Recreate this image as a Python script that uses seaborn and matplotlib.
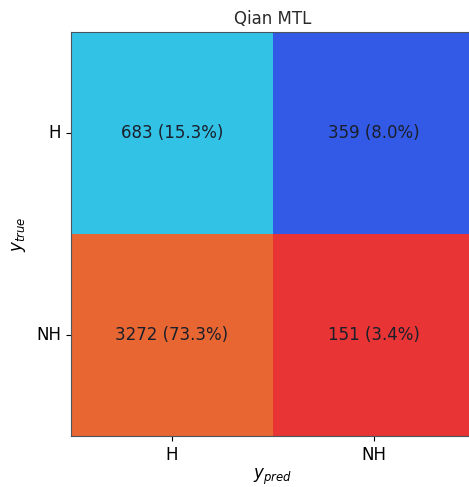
import matplotlib
matplotlib.use('Agg')
import matplotlib.pyplot as plt
from matplotlib.colors import ListedColormap
import seaborn as sns
import numpy as np

classes = ['H', 'NH']
counts = [[683, 359],
          [3272, 151]]
percents = [[15.3, 8.0],
            [73.3, 3.4]]
cell_colors = ['#32c2e6', '#325ae6', '#e86632', '#e83434']

idx = np.arange(4).reshape(2, 2)
labels = np.array([[f'{c} ({p:.1f}%)' for c, p in zip(rc, rp)]
                   for rc, rp in zip(counts, percents)])

fig = plt.figure(figsize=(4.69, 4.87), dpi=100)
ax = fig.add_axes([0.1514, 0.1047, 0.8614, 0.8296])
sns.heatmap(idx, cmap=ListedColormap(cell_colors), vmin=-0.5, vmax=3.5,
            annot=labels, fmt='', cbar=False, ax=ax,
            annot_kws={'fontsize': 12, 'color': '#1a1f2a'},
            xticklabels=classes, yticklabels=classes)
for sp in ax.spines.values():
    sp.set_visible(True)
    sp.set_color('#4a5560')
    sp.set_linewidth(0.8)
ax.set_title('Qian MTL', fontsize=12, color='#2a2a2a')
ax.set_xlabel('$y_{pred}$', fontsize=12, labelpad=2)
ax.set_ylabel('$y_{true}$', fontsize=12, labelpad=6)
ax.tick_params(labelsize=12, length=3.5)
plt.yticks(rotation=0)
fig.savefig('out.png', dpi=100)
